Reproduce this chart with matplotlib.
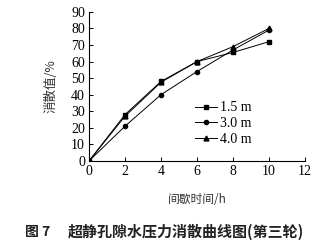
import matplotlib.pyplot as plt
import numpy as np

# data
t = [0, 2, 4, 6, 8, 10]
d15 = [0, 28, 48, 60, 65.5, 72]
d30 = [0, 21, 40, 54, 67, 79]
d40 = [0, 27, 47.5, 60, 69, 80]
names = ['1.5 m', '3.0 m', '4.0 m']

serif = ['Liberation Serif', 'DejaVu Serif']
cjk = ['Noto Sans CJK SC', 'DejaVu Sans']

fig = plt.figure(figsize=(3.25, 2.48), dpi=100)
ax = fig.add_axes([0.274, 0.351, 0.664, 0.601])

ax.plot(t, d15, color='black', lw=0.7, marker='s', ms=3.5, label=names[0])
ax.plot(t, d30, color='black', lw=0.7, marker='o', ms=3, label=names[1])
ax.plot(t, d40, color='black', lw=0.7, marker='^', ms=3.5, label=names[2])

ax.set_xlim(0, 12)
ax.set_ylim(0, 90)
ax.set_xticks(np.arange(0, 13, 2))
ax.set_yticks(np.arange(0, 91, 10))
ax.spines['top'].set_visible(False)
ax.spines['right'].set_visible(False)
ax.tick_params(direction='in', length=3, width=0.7, labelsize=10, pad=3)
for lab in ax.get_xticklabels() + ax.get_yticklabels():
    lab.set_family(serif)

ax.set_xlabel('间歇时间/h', family=cjk, fontsize=8.5, color='#333333', labelpad=11)
ax.set_ylabel('消散值/%', family=cjk, fontsize=9, color='#333333', labelpad=10)

leg = ax.legend(loc='center left', bbox_to_anchor=(0.465, 0.25), frameon=False,
                prop={'family': serif, 'size': 10}, handlelength=1.6,
                handletextpad=0.2, labelspacing=0.2, borderaxespad=0)

fig.text(0.078, 0.065, '图 7', family=cjk, fontsize=10, fontweight='bold',
         ha='left', va='center', color='#222222')
fig.text(0.208, 0.065, '超静孔隙水压力消散曲线图(第三轮)', family=cjk,
         fontsize=10.8, fontweight='bold', ha='left', va='center', color='#222222')

fig.savefig('out.png', dpi=100)
